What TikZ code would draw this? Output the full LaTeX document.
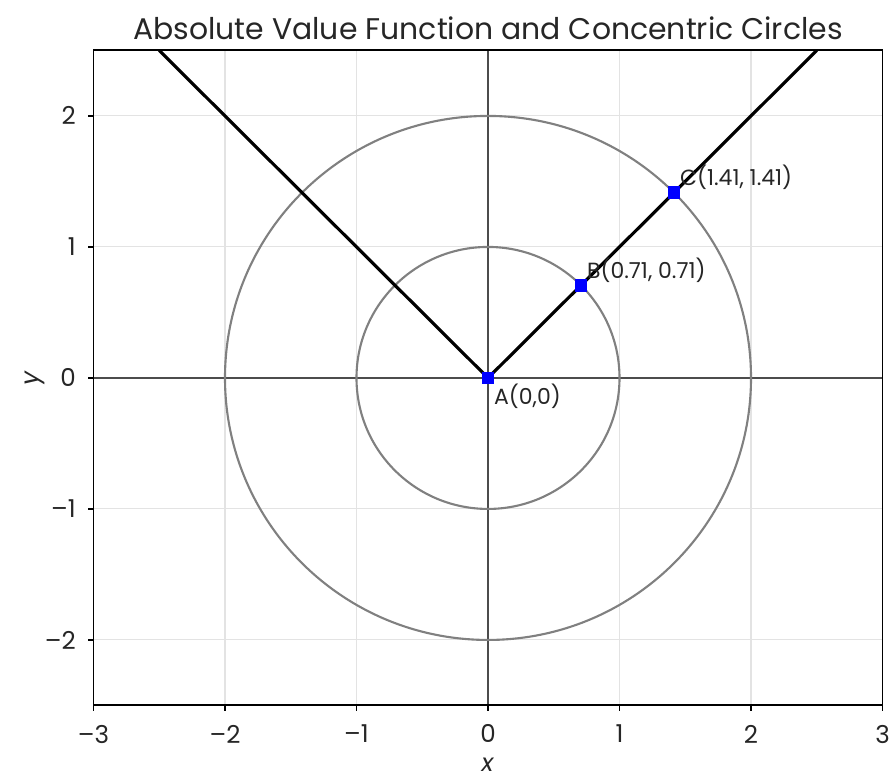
\documentclass[tikz,border=0pt]{standalone}
\usepackage{fontspec}
\setmainfont{Poppins}
\usetikzlibrary{positioning}

\tikzset{
  gridline/.style={gray!22, line width=0.6pt},
  axisline/.style={gray!60!black, line width=0.9pt},
  ringline/.style={gray, line width=1.2pt},
  absline/.style={black, line width=1.8pt},
  pt/.style={fill=blue, inner sep=0pt, minimum size=7.2pt},
  ptlabel/.style={font=\fontsize{12.5}{14}\selectfont, inner sep=0.5pt, text=black!85},
  ticklabel/.style={font=\fontsize{14}{16}\selectfont, text=black!85}
}

\begin{document}
\begin{tikzpicture}[x=2.63cm, y=2.62cm]
  \useasboundingbox (-3.711,-3.069) rectangle (3.057,2.885);

  % Grid
  \foreach \i in {-2,...,2} {
    \draw[gridline] (\i,-2.5) -- (\i,2.5);
    \draw[gridline] (-3,\i) -- (3,\i);
  }

  % Axes through origin
  \draw[axisline] (-3,0) -- (3,0);
  \draw[axisline] (0,-2.5) -- (0,2.5);

  % Concentric circles
  \draw[ringline] (0,0) circle (1);
  \draw[ringline] (0,0) circle (2);

  % y = |x|
  \coordinate (L) at (-2.5,2.5);
  \coordinate (R) at (2.5,2.5);
  \coordinate (pA) at (0,0);
  \coordinate (pB) at (0.7071,0.7071);
  \coordinate (pC) at (1.4142,1.4142);
  \draw[absline] (L) -- (pA) -- (pB) -- (pC) -- (R);

  % Points
  \node[pt] (A) at (pA) {};
  \node[pt] (B) at (pB) {};
  \node[pt] (C) at (pC) {};
  \node[ptlabel, below right=-1pt and -1pt of A] (labA) {A(0,0)};
  \node[ptlabel, above right=-3pt and -1pt of B] (labB) {B(0.71, 0.71)};
  \node[ptlabel, above right=-3pt and -1pt of C] (labC) {C(1.41, 1.41)};

  % Frame and ticks
  \draw[black, line width=1.1pt] (-3,-2.5) rectangle (3,2.5);
  \foreach \x/\t in {-3/--3,-2/--2,-1/--1,0/0,1/1,2/2,3/3}
    \draw[line width=0.8pt] (\x,-2.5) -- ++(0,-0.045) node[ticklabel, below=4pt] {\t};
  \foreach \y/\t in {-2/--2,-1/--1,0/0,1/1,2/2}
    \draw[line width=0.8pt] (-3,\y) -- ++(-0.045,0) node[ticklabel, left=3pt] {\t};

  % Labels
  \node[ticklabel, inner sep=0pt] (xlab) at (0,-2.955) {\textit{x}};
  \node[ticklabel, rotate=90] (ylab) at (-3.445,0) {\textit{y}};
  \node[font=\fontsize{17}{20}\selectfont, text=black!85] (title) at (0,2.672) {Absolute Value Function and Concentric Circles};
\end{tikzpicture}
\end{document}
